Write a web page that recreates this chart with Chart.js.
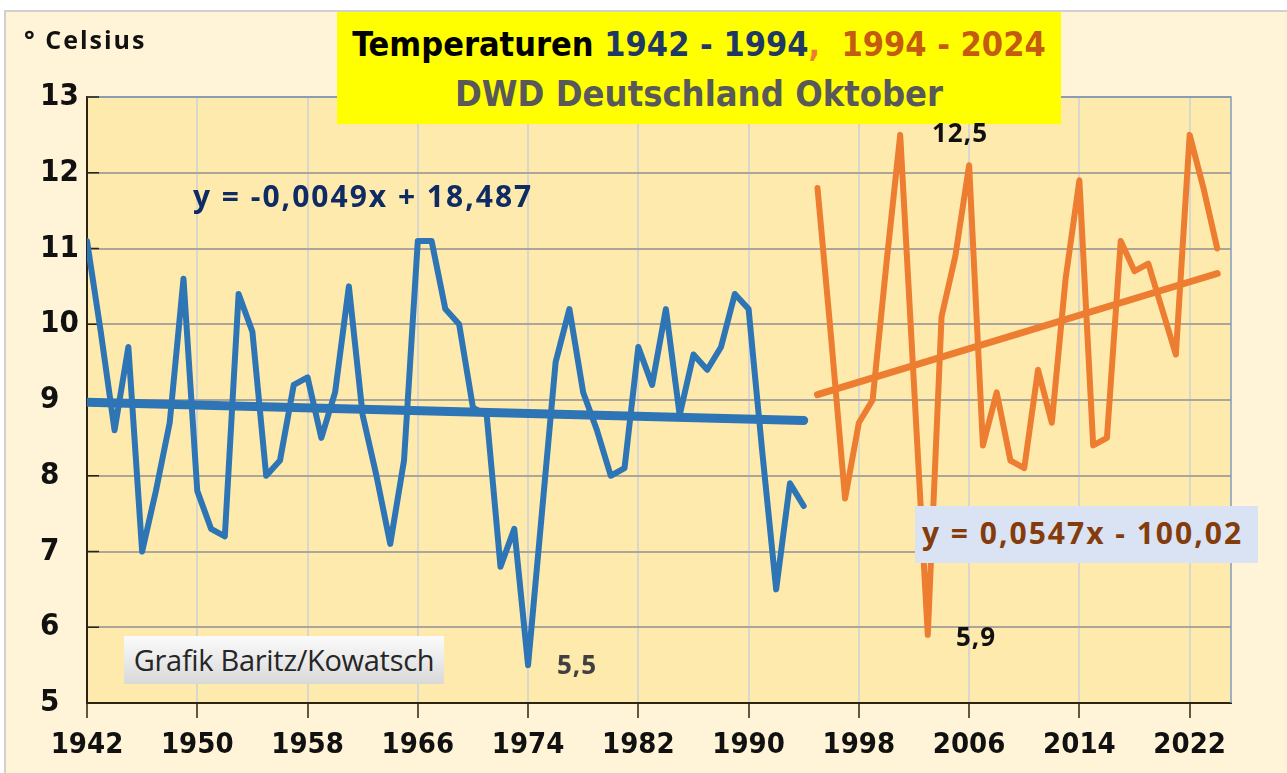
<!DOCTYPE html>
<html>
<head>
<meta charset="utf-8">
<script src="https://cdn.jsdelivr.net/npm/chart.js@4.4.2/dist/chart.umd.min.js"></script>
<style>
  html, body { margin: 0; padding: 0; background: #fff; }
  #wrap { position: relative; width: 1287px; height: 773px; overflow: hidden; }
  #chart { position: absolute; left: 0; top: 0; }
  .txt { position: absolute; white-space: nowrap; font-weight: bold; line-height: 1; }
  .narrow { font-family: 'Liberation Sans Narrow', 'DejaVu Sans Condensed', sans-serif; }
  .calib { font-family: 'Open Sans', sans-serif; font-weight: 700; }
  #titleBox { position: absolute; left: 337px; top: 12px; width: 724px; height: 112px; background: #ffff00; text-align: center; }
  #titleBox .l1 { position: absolute; left: 0; right: 0; top: 15px; font-size: 34px; color: #000; }
  #titleBox .l2 { position: absolute; left: 0; right: 0; top: 64px; font-size: 36px; color: #595959; }
  #eqOrange { position: absolute; left: 915px; top: 506px; width: 343px; height: 57px; background: #dae3f3; }
  #credit { position: absolute; left: 124px; top: 636px; width: 320px; height: 48px;
    background: linear-gradient(#fbfbfb, #d9d9d9); font: 29px 'Open Sans', sans-serif; color: #262626;
    text-align: center; line-height: 48px; letter-spacing: -0.3px; }
</style>
</head>
<body>
<div id="wrap">
  <canvas id="chart" width="1287" height="773"></canvas>
  <div class="txt calib" style="left:24px; top:27px; font-size:25px; letter-spacing:2px; color:#111;">° Celsius</div>
  <div id="titleBox" class="narrow">
    <div class="txt l1" style="width:100%;">Temperaturen <span style="color:#1f3864">1942 - 1994</span><span style="color:#ed7d31">,</span>&nbsp; <span style="color:#c55a11">1994 - 2024</span></div>
    <div class="txt l2" style="width:100%;">DWD Deutschland Oktober</div>
  </div>
  <div class="txt calib" style="left:193px; top:181px; font-size:30px; letter-spacing:2px; color:#0f2b63;">y = -0,0049x + 18,487</div>
  <div id="eqOrange"><div class="txt calib" style="left:7px; top:12px; font-size:30px; letter-spacing:2px; color:#843c0c;">y = 0,0547x - 100,02</div></div>
  <div class="txt calib" style="left:932px; top:119px; font-size:26px; letter-spacing:1px; color:#111;">12,5</div>
  <div class="txt calib" style="left:956px; top:623px; font-size:26px; letter-spacing:1px; color:#111;">5,9</div>
  <div class="txt calib" style="left:557px; top:651px; font-size:26px; letter-spacing:1px; color:#404040;">5,5</div>
  <div id="credit">Grafik Baritz/Kowatsch</div>
</div>
<script>
// Oktober-Mitteltemperatur Deutschland (DWD)
const blueYears = [1942, 1943, 1944, 1945, 1946, 1947, 1948, 1949, 1950, 1951, 1952, 1953, 1954, 1955,
  1956, 1957, 1958, 1959, 1960, 1961, 1962, 1963, 1964, 1965, 1966, 1967, 1968, 1969, 1970, 1971,
  1972, 1973, 1974, 1975, 1976, 1977, 1978, 1979, 1980, 1981, 1982, 1983, 1984, 1985, 1986, 1987,
  1988, 1989, 1990, 1991, 1992, 1993, 1994];
const blueTemps = [11.1, 9.9, 8.6, 9.7, 7.0, 7.8, 8.7, 10.6, 7.8, 7.3, 7.2, 10.4, 9.9, 8.0,
  8.2, 9.2, 9.3, 8.5, 9.1, 10.5, 8.8, 8.0, 7.1, 8.2, 11.1, 11.1, 10.2, 10.0, 8.9, 8.8,
  6.8, 7.3, 5.5, 7.5, 9.5, 10.2, 9.1, 8.6, 8.0, 8.1, 9.7, 9.2, 10.2, 8.8, 9.6, 9.4,
  9.7, 10.4, 10.2, 8.3, 6.5, 7.9, 7.6];

const orangeYears = [1995, 1996, 1997, 1998, 1999, 2000, 2001, 2002, 2003, 2004, 2005, 2006, 2007,
  2008, 2009, 2010, 2011, 2012, 2013, 2014, 2015, 2016, 2017, 2018, 2019, 2020, 2021, 2022, 2023, 2024];
const orangeTemps = [11.8, 9.8, 7.7, 8.7, 9.0, 10.8, 12.5, 9.2, 5.9, 10.1, 10.9, 12.1, 8.4,
  9.1, 8.2, 8.1, 9.4, 8.7, 10.6, 11.9, 8.4, 8.5, 11.1, 10.7, 10.8, 10.2, 9.6, 12.5, 11.8, 11.0];

// Trendlinien (Endpunkte)
const blueTrendYears = [1942, 1994];
const blueTrendTemps = [8.97, 8.73];
const orangeTrendYears = [1995, 2024];
const orangeTrendTemps = [9.07, 10.67];

const xTickYears = [1942, 1950, 1958, 1966, 1974, 1982, 1990, 1998, 2006, 2014, 2022];

const toPoints = (xs, ys) => xs.map((x, i) => ({ x: x, y: ys[i] }));

const axisFont = { family: "'Liberation Sans Narrow', 'DejaVu Sans Condensed', sans-serif", size: 29, weight: 'bold' };

const frame = {
  id: 'frame',
  beforeDraw(chart) {
    const { ctx, chartArea: a } = chart;
    ctx.save();
    ctx.fillStyle = '#ffffff';
    ctx.fillRect(0, 0, chart.width, chart.height);
    ctx.fillStyle = '#fff4d8';
    ctx.fillRect(5, 12, chart.width - 5, chart.height - 12);
    ctx.strokeStyle = '#d0d0d0';
    ctx.lineWidth = 2;
    ctx.beginPath();
    ctx.moveTo(5, chart.height);
    ctx.lineTo(5, 11);
    ctx.lineTo(chart.width, 11);
    ctx.stroke();
    ctx.fillStyle = '#ffeaae';
    ctx.fillRect(a.left, a.top, a.right - a.left, a.bottom - a.top);
    ctx.restore();
  },
  beforeDatasetsDraw(chart) {
    const { ctx, chartArea: a, scales } = chart;
    ctx.save();
    // Rahmen oben / rechts
    ctx.strokeStyle = '#7f9db9';
    ctx.lineWidth = 1.5;
    ctx.beginPath();
    ctx.moveTo(a.left, a.top);
    ctx.lineTo(a.right, a.top);
    ctx.lineTo(a.right, a.bottom);
    ctx.stroke();
    // Teilstriche innen an der y-Achse
    ctx.strokeStyle = '#2b2410';
    ctx.lineWidth = 1.5;
    scales.y.ticks.forEach(t => {
      const py = scales.y.getPixelForValue(t.value);
      ctx.beginPath();
      ctx.moveTo(a.left, py);
      ctx.lineTo(a.left + 12, py);
      ctx.stroke();
    });
    ctx.restore();
  }
};

new Chart(document.getElementById('chart'), {
  type: 'line',
  data: {
    datasets: [
      {
        data: toPoints(blueYears, blueTemps),
        borderColor: '#2e75b6',
        borderWidth: 6
      },
      {
        data: toPoints(blueTrendYears, blueTrendTemps),
        borderColor: '#2e75b6',
        borderWidth: 9
      },
      {
        data: toPoints(orangeYears, orangeTemps),
        borderColor: '#ed7d31',
        borderWidth: 6
      },
      {
        data: toPoints(orangeTrendYears, orangeTrendTemps),
        borderColor: '#ed7d31',
        borderWidth: 7
      }
    ]
  },
  options: {
    responsive: false,
    animation: false,
    events: [],
    layout: {
      padding: { left: 40, right: 56, top: 97, bottom: 0 }
    },
    elements: {
      point: { radius: 0 },
      line: { tension: 0, borderJoinStyle: 'round', borderCapStyle: 'round', fill: false }
    },
    plugins: {
      legend: { display: false },
      tooltip: { enabled: false }
    },
    scales: {
      x: {
        type: 'linear',
        min: 1942,
        max: 2025,
        afterBuildTicks: axis => {
          axis.ticks = xTickYears.map(v => ({ value: v }));
        },
        afterFit: scale => {
          scale.height = 70;
        },
        ticks: {
          callback: v => String(v),
          font: axisFont,
          color: '#111',
          padding: 10,
          maxRotation: 0,
          autoSkip: false
        },
        grid: {
          color: '#d9d6cc',
          lineWidth: 2,
          tickLength: 15,
          tickColor: '#2b2410',
          tickWidth: 1.5
        },
        border: { color: '#2b2410', width: 2 }
      },
      y: {
        min: 5,
        max: 13,
        afterFit: scale => {
          scale.width = 47;
        },
        ticks: {
          stepSize: 1,
          font: { family: axisFont.family, size: 31, weight: 'bold' },
          color: '#111',
          crossAlign: 'far',
          padding: 6
        },
        grid: {
          color: '#aba698',
          lineWidth: 2,
          drawTicks: false
        },
        border: { color: '#2b2410', width: 2 }
      }
    }
  },
  plugins: [frame]
});
</script>
</body>
</html>
